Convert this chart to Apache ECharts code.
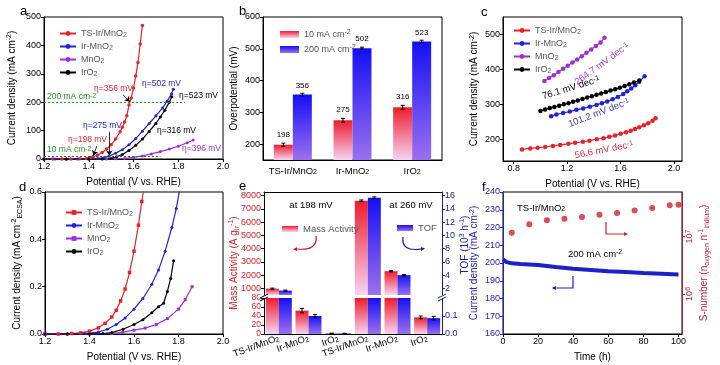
<!DOCTYPE html>
<html>
<head>
<meta charset="utf-8">
<script src="https://cdn.jsdelivr.net/npm/echarts@6.0.0/dist/echarts.min.js"></script>
<style>
html,body{margin:0;padding:0;background:#fff;}
#chart{width:720px;height:365px;}
</style>
</head>
<body>
<div id="chart"></div>
<script>
// ================= DATA =================
// panel a : LSV, [potential V vs RHE, current density mA cm-2]
const A_TS   = [[1.20,0],[1.24,0],[1.28,0],[1.32,0],[1.36,0.5],[1.39,2],[1.41,5],[1.42,8],[1.44,14],[1.46,23],[1.48,35],[1.50,50],[1.52,70],[1.54,96],[1.55,112],[1.56,130],[1.57,152],[1.58,190],[1.59,215],[1.60,250],[1.61,292],[1.62,340],[1.63,405],[1.64,470]];
const A_IR   = [[1.20,0],[1.25,0],[1.30,0],[1.35,0],[1.40,0.5],[1.44,2],[1.47,5],[1.49,10],[1.52,20],[1.55,33],[1.58,50],[1.61,72],[1.64,98],[1.67,125],[1.70,152],[1.73,180],[1.75,203],[1.77,230],[1.778,246]];
const A_MNO2 = [[1.20,0],[1.30,0],[1.40,0],[1.48,0],[1.52,0.5],[1.56,2],[1.60,6],[1.64,11],[1.68,18],[1.72,26],[1.76,35],[1.80,45],[1.84,57],[1.867,67]];
const A_IRO2 = [[1.20,0],[1.30,0],[1.40,0],[1.46,0.3],[1.50,2],[1.525,8],[1.55,16],[1.58,30],[1.61,48],[1.64,70],[1.67,97],[1.70,125],[1.72,148],[1.74,172],[1.76,200],[1.771,219]];

// panel b : overpotential (mV)
const B_CATS = ['TS-Ir/MnO2','Ir-MnO2','IrO2'];
const B_ETA10 = [198,275,316];
const B_ETA10_ERR = [5,6,6];
const B_ETA200 = [356,502,523];
const B_ETA200_ERR = [4,3,4];

// panel c : Tafel
const C_TS_X = [0.862,0.924,0.979,1.036,1.094,1.148,1.210,1.260,1.318,1.367,1.422,1.472,1.516,1.559,1.601,1.641,1.676,1.708,1.740,1.775,1.807,1.840,1.862];
const C_TS_Y = [171,174,176,178,181,184,187,190,193,196,200,203,207,211,216,220,224,229,234,240,246,253,260];
const C_IR_X = [1.08,1.12,1.17,1.22,1.27,1.32,1.37,1.42,1.46,1.50,1.54,1.58,1.62,1.65,1.68,1.71,1.74,1.78];
const C_IR_Y = [266,271,275,279,284,288,293,298,303,308,314,321,329,337,345,354,364,380];
const C_MNO2_X = [1.03,1.065,1.10,1.135,1.17,1.205,1.24,1.275,1.31,1.345,1.38,1.415,1.45,1.48];
const C_MNO2_Y = [366,375,383,392,401,410,419,428,437,447,456,466,476,490];
const C_IRO2_X = [1.00,1.035,1.07,1.105,1.14,1.175,1.21,1.245,1.28,1.315,1.35,1.385,1.42,1.455,1.49,1.525,1.56,1.595,1.63,1.665,1.70,1.74];
const C_IRO2_Y = [281,285,289,292,296,300,303,307,311,315,319,323,327,331,335,339,343,347,352,357,362,368];

// panel d : ECSA normalised LSV
const D_TS   = [[1.20,0],[1.26,0],[1.32,0.002],[1.36,0.005],[1.40,0.012],[1.44,0.026],[1.47,0.045],[1.50,0.072],[1.52,0.10],[1.54,0.14],[1.56,0.19],[1.58,0.26],[1.60,0.35],[1.62,0.46],[1.635,0.56],[1.645,0.62]];
const D_IR   = [[1.20,0],[1.30,0],[1.38,0.002],[1.44,0.008],[1.48,0.02],[1.52,0.04],[1.56,0.068],[1.60,0.105],[1.64,0.15],[1.68,0.21],[1.71,0.27],[1.74,0.35],[1.77,0.45],[1.79,0.53],[1.805,0.61]];
const D_MNO2 = [[1.20,0],[1.30,0],[1.40,0],[1.50,0.002],[1.55,0.008],[1.60,0.016],[1.65,0.025],[1.70,0.04],[1.75,0.065],[1.80,0.105],[1.83,0.145],[1.861,0.2]];
const D_IRO2 = [[1.20,0],[1.30,0],[1.40,0],[1.46,0.002],[1.50,0.006],[1.55,0.02],[1.60,0.04],[1.64,0.06],[1.68,0.09],[1.71,0.115],[1.733,0.13],[1.75,0.18],[1.765,0.235],[1.778,0.31]];

// panel e : mass activity (A g-1 Ir) & TOF (10^3 h-1)
const E_CATS = ['TS-Ir/MnO2','Ir-MnO2','IrO2','TS-Ir/MnO2','Ir-MnO2','IrO2'];
const E_MA = [980,52,1.5,7620,2300,37];
const E_MA_ERR = [40,5,0.5,60,50,3];
const E_TOF = [1.66,0.10,0.003,15.7,4.0,0.088];
const E_TOF_ERR = [0.08,0.008,0.001,0.12,0.1,0.01];

// panel f : stability
const F_T = [0,1,2,5,10,20,30,40,50,60,70,80,90,100];
const F_J = [202,201,200.5,199.8,199.4,198.9,197.7,196.7,196.0,195.3,194.9,194.4,194.0,193.5];
const S_T = [5,15,25,35,45,55,65,75,85,95,100];
const S_N = [1.17e7,1.64e7,1.92e7,2.05e7,2.19e7,2.41e7,2.57e7,2.86e7,3.14e7,3.54e7,3.59e7];

// tick labels
const B_YTICKS = [200,300,400,500,600];
const C_XTICKS = [0.8,1.2,1.6,2.0];
const C_YTICKS = [200,300,400,500];
const E_UL_TICKS = [1000,2000,3000,4000,5000,6000,7000,8000];
const E_UR_TICKS = [2,4,6,8,10,12,14,16];
const E_LL_TICKS = [0,20,40,60,80];
const E_LR_TICKS = [0,0.1];
const F_XTICKS = [0,20,40,60,80,100];

// ================= STYLE =================
const F = 'Liberation Sans, Arial, Helvetica, sans-serif';
const RED = '#e3242b', BLUE = '#2323d6', PURPLE = '#9b30d9', BLACK = '#000000';
const RICH = {
  sup: {fontSize: 7, verticalAlign: 'top', lineHeight: 8, fontFamily: F},
  sub: {fontSize: 7, verticalAlign: 'bottom', lineHeight: 8, fontFamily: F}
};
const gradRed = {type:'linear',x:0,y:0,x2:0,y2:1,colorStops:[{offset:0,color:'#ee1c2c'},{offset:1,color:'#f6d4f4'}]};
const gradBlue = {type:'linear',x:0,y:0,x2:0,y2:1,colorStops:[{offset:0,color:'#1410f5'},{offset:1,color:'#9c70ee'}]};
const LBL = {TS:'TS-Ir/MnO{sub|2}', IR:'Ir-MnO{sub|2}', MN:'MnO{sub|2}', IO:'IrO{sub|2}'};
function catLabel(v){ return v.replace(/O2$/, 'O{sub|2}'); }

function merge(a, b) {
  const r = Object.assign({}, a);
  for (const k in b) {
    if (b[k] && typeof b[k] === 'object' && !Array.isArray(b[k]) && a[k] && typeof a[k] === 'object' && !Array.isArray(a[k])) r[k] = merge(a[k], b[k]);
    else r[k] = b[k];
  }
  return r;
}
const AX = {
  type: 'value',
  axisLine: {show: true, onZero: false, lineStyle: {color: '#000', width: 1}},
  axisTick: {show: true, inside: false, length: 3, lineStyle: {color: '#000'}},
  axisLabel: {fontSize: 9, color: '#000', margin: 3, fontFamily: F, rich: RICH},
  splitLine: {show: false},
  nameLocation: 'middle',
  nameTextStyle: {fontSize: 10, color: '#000', fontFamily: F, rich: RICH, lineHeight: 13}
};
function ax(o){ return merge(AX, o); }
const fix1 = v => (+v).toFixed(1);
const plain = v => String(v);

function lineS(name, data, color, xi, yi, symbol, size) {
  return {type:'line', name, data, xAxisIndex:xi, yAxisIndex:yi, symbol: symbol || 'circle', symbolSize: size || 3,
    showSymbol: true, lineStyle: {color, width: 1.2}, itemStyle: {color}, animation: false, z: 3};
}
function pairs(xs, ys){ return xs.map((x, i) => [x, ys[i]]); }

function errS(xi, yi, vals, errs, off, lo, hi) {
  const data = [];
  vals.forEach((v, i) => { if (v >= lo && v <= hi) data.push([i, v, errs[i]]); });
  return {type:'custom', xAxisIndex: xi, yAxisIndex: yi, data, z: 5, silent: true, animation: false,
    encode: {x: 0, y: 1},
    renderItem: function(params, api) {
      const c = api.coord([api.value(0), api.value(1)]);
      const t = api.coord([api.value(0), api.value(1) + api.value(2)]);
      const b = api.coord([api.value(0), api.value(1) - api.value(2)]);
      const x = c[0] + off, hw = 2;
      const st = {stroke: '#000', lineWidth: 1};
      return {type: 'group', children: [
        {type:'line', shape:{x1:x, y1:t[1], x2:x, y2:b[1]}, style: st},
        {type:'line', shape:{x1:x-hw, y1:t[1], x2:x+hw, y2:t[1]}, style: st},
        {type:'line', shape:{x1:x-hw, y1:b[1], x2:x+hw, y2:b[1]}, style: st}
      ]};
    }};
}

// graphic helpers
function txt(x, y, s, o) {
  return {type:'text', x, y, z: 20, style: Object.assign({text: s, fontSize: 9, fontFamily: F, fill: '#000', align: 'left', verticalAlign: 'middle', rich: RICH}, o || {})};
}
function rtxt(x, y, deg, s, o) {
  const t = txt(x, y, s, Object.assign({align: 'center'}, o || {}));
  t.rotation = deg * Math.PI / 180;
  return t;
}
function head(x, y, ang, color, s) {
  s = s || 4;
  const ca = Math.cos(ang), sa = Math.sin(ang);
  const p1 = [x - s*ca + s*0.5*sa, y - s*sa - s*0.5*ca];
  const p2 = [x - s*ca - s*0.5*sa, y - s*sa + s*0.5*ca];
  return {type:'polygon', z: 20, shape: {points: [[x, y], p1, p2]}, style: {fill: color}};
}
function seg(x1, y1, x2, y2, color, w) {
  return {type:'line', z: 20, shape: {x1, y1, x2, y2}, style: {stroke: color, lineWidth: w || 1}};
}

const B_YMIN = 150;
const E_LO_MAX = 80, E_LO_TOF_MAX = 0.2;

const chart = echarts.init(document.getElementById('chart'), null, {renderer: 'canvas'});
const gridBox = {show: true, borderColor: '#000', borderWidth: 1, backgroundColor: 'transparent'};

const option = {
  animation: false,
  backgroundColor: '#fff',
  textStyle: {fontFamily: F},
  grid: [
    Object.assign({left: 44, top: 17, width: 179, height: 142}, gridBox),
    Object.assign({left: 263, top: 17, width: 179, height: 143}, gridBox),
    Object.assign({left: 503, top: 17, width: 179, height: 144}, gridBox),
    Object.assign({left: 45, top: 192, width: 178, height: 142}, gridBox),
    {left: 264, top: 192, width: 178, height: 103, show: false},
    {left: 264, top: 298, width: 178, height: 36, show: false},
    Object.assign({left: 503, top: 192, width: 179, height: 143}, gridBox)
  ],
  xAxis: [
    ax({gridIndex: 0, min: 1.2, max: 2.0, interval: 0.2, axisLabel: {formatter: fix1}, name: 'Potential (V vs. RHE)', nameGap: 17}),
    ax({gridIndex: 1, type: 'category', data: B_CATS, axisTick: {show: false}, axisLabel: {interval: 0, margin: 6, fontSize: 9.5, formatter: catLabel}}),
    ax({gridIndex: 2, min: 0.72, max: 2.06, axisLabel: {customValues: C_XTICKS, formatter: fix1}, axisTick: {customValues: C_XTICKS}, name: 'Potential (V vs. RHE)', nameGap: 17}),
    ax({gridIndex: 3, min: 1.2, max: 2.0, interval: 0.2, axisLabel: {formatter: fix1}, name: 'Potential (V vs. RHE)', nameGap: 17}),
    ax({gridIndex: 4, type: 'category', data: E_CATS, axisLine: {show: false}, axisTick: {show: false}, axisLabel: {show: false},
        splitLine: {show: true, interval: (i) => i === 3, lineStyle: {color: '#333', type: [5, 3], width: 1}}}),
    ax({gridIndex: 4, type: 'category', data: E_CATS, position: 'top', axisTick: {show: false}, axisLabel: {show: false}}),
    ax({gridIndex: 5, type: 'category', data: E_CATS, axisTick: {show: false},
        axisLabel: {interval: 0, rotate: 20, fontSize: 9.5, margin: 4, formatter: catLabel},
        splitLine: {show: true, interval: (i) => i === 3, lineStyle: {color: '#333', type: [5, 3], width: 1}}}),
    ax({gridIndex: 6, min: 0, max: 102, axisLabel: {customValues: F_XTICKS}, axisTick: {customValues: F_XTICKS}, name: 'Time (h)', nameGap: 17})
  ],
  yAxis: [
    ax({gridIndex: 0, min: 0, max: 500, interval: 100, name: 'Current density (mA cm{sup|-2})', nameGap: 25}),
    ax({gridIndex: 1, min: B_YMIN, max: 600, axisLabel: {customValues: B_YTICKS}, axisTick: {customValues: B_YTICKS}, name: 'Overpotential (mV)', nameGap: 15}),
    ax({gridIndex: 2, min: 138, max: 549, axisLabel: {customValues: C_YTICKS}, axisTick: {customValues: C_YTICKS}, name: 'Current density (mA cm{sup|-2})', nameGap: 14}),
    ax({gridIndex: 3, min: 0, max: 0.6, interval: 0.2, axisLabel: {formatter: fix1}, name: 'Current density (mA cm{sup|-2}{sub|ECSA})', nameGap: 21}),
    ax({gridIndex: 4, min: 500, max: 8280, axisLabel: {customValues: E_UL_TICKS, color: '#d8232a', formatter: plain}, axisTick: {customValues: E_UL_TICKS}}),
    ax({gridIndex: 4, position: 'right', min: 1.0, max: 16.56, axisLine: {lineStyle: {color: '#1b1b9e'}}, axisLabel: {customValues: E_UR_TICKS, color: '#1b1b9e', formatter: plain}, axisTick: {customValues: E_UR_TICKS, lineStyle: {color: '#1b1b9e'}}}),
    ax({gridIndex: 5, min: 0, max: E_LO_MAX, axisLabel: {customValues: E_LL_TICKS, color: '#d8232a', fontSize: 8.5, formatter: plain, showMinLabel: true, showMaxLabel: true}, axisTick: {customValues: E_LL_TICKS}}),
    ax({gridIndex: 5, position: 'right', min: 0, max: E_LO_TOF_MAX, axisLine: {lineStyle: {color: '#1b1b9e'}}, axisLabel: {customValues: E_LR_TICKS, color: '#1b1b9e', formatter: fix1, showMinLabel: true}, axisTick: {customValues: E_LR_TICKS, lineStyle: {color: '#1b1b9e'}}}),
    ax({gridIndex: 6, min: 160, max: 240, interval: 10, axisLine: {lineStyle: {color: '#2323b8'}}, axisTick: {lineStyle: {color: '#2323b8'}}, axisLabel: {color: '#2323b8'},
        name: 'Current density (mA cm{sup|-2})', nameGap: 18, nameTextStyle: {color: '#2323b8'}}),
    ax({gridIndex: 6, type: 'log', logBase: 10, position: 'right', min: 2e5, max: 6e7,
        axisLine: {lineStyle: {color: '#b02040'}}, axisTick: {lineStyle: {color: '#b02040'}},
        axisLabel: {color: '#c0203a', rotate: 90, showMinLabel: false, showMaxLabel: false, formatter: v => '10{sup|' + Math.round(Math.log10(v)) + '}'},
        minorTick: {show: false},
        name: 'S-number (n{sub|oxygen} n{sup|-1}{sub|iridium})', nameGap: 16, nameRotate: 90, nameTextStyle: {color: '#c0203a'}})
  ],
  legend: [
    {left: 54, top: 23, orient: 'vertical', selectedMode: false, itemWidth: 16, itemHeight: 6, itemGap: 2,
     data: ['aTS','aIR','aMN','aIO'], formatter: n => LBL[n.slice(1)], textStyle: {fontSize: 9, fontFamily: F, rich: RICH, lineHeight: 11}},
    {left: 275, top: 24, orient: 'vertical', selectedMode: false, icon: 'rect', itemWidth: 19, itemHeight: 7, itemGap: 4,
     data: ['b10','b200'], formatter: n => n === 'b10' ? '10 mA cm{sup|-2}' : '200 mA cm{sup|-2}', textStyle: {fontSize: 9, fontFamily: F, rich: RICH, lineHeight: 11}},
    {left: 508, top: 20, orient: 'vertical', selectedMode: false, itemWidth: 16, itemHeight: 6, itemGap: 2,
     data: ['cTS','cIR','cMN','cIO'], formatter: n => LBL[n.slice(1)], textStyle: {fontSize: 9, fontFamily: F, rich: RICH, lineHeight: 11}},
    {left: 60, top: 202, orient: 'vertical', selectedMode: false, itemWidth: 16, itemHeight: 6, itemGap: 2,
     data: ['dTS','dIR','dMN','dIO'], formatter: n => LBL[n.slice(1)], textStyle: {fontSize: 9, fontFamily: F, rich: RICH, lineHeight: 11}},
    {left: 277, top: 219, selectedMode: false, icon: 'rect', itemWidth: 16, itemHeight: 6, data: ['Mass Activity'],
     textStyle: {fontSize: 9.5, fontFamily: F}},
    {left: 392, top: 218, selectedMode: false, icon: 'rect', itemWidth: 16, itemHeight: 6, data: ['TOF'],
     textStyle: {fontSize: 9.5, fontFamily: F}}
  ],
  series: [
    // ---- a ----
    Object.assign(lineS('aTS', A_TS, RED, 0, 0, 'circle', 3.5), {
      markLine: {silent: true, symbol: ['none','none'], animation: false, label: {show: false},
        data: [
          [{coord: [1.2, 200], lineStyle: {color: '#2e9a2e', type: [2, 2], width: 1.2}}, {coord: [1.83, 200]}],
          [{coord: [1.2, 10], lineStyle: {color: '#2e6a2e', type: [2, 2], width: 1.2}}, {coord: [1.72, 10]}]
        ]}}),
    Object.assign(lineS('aIR', A_IR, BLUE, 0, 0, 'circle', 3), {
      markLine: {silent: true, symbol: ['none','arrow'], symbolSize: 5, animation: false, label: {show: false},
        lineStyle: {color: '#000', type: 'solid', width: 0.8},
        data: [
          [{coord: [1.553, 226]}, {coord: [1.584, 202]}],
          [{coord: [1.492, 96]}, {coord: [1.492, 12]}],
          [{coord: [1.436, 46]}, {coord: [1.421, 12]}]
        ]}}),
    lineS('aMN', A_MNO2, PURPLE, 0, 0, 'circle', 3),
    lineS('aIO', A_IRO2, BLACK, 0, 0, 'circle', 3),
    // ---- b ----
    {type: 'bar', name: 'b10base', stack: 'r', xAxisIndex: 1, yAxisIndex: 1, barWidth: 19, barGap: '0%', data: B_ETA10.map(() => B_YMIN), itemStyle: {color: 'rgba(0,0,0,0)'}, silent: true},
    {type: 'bar', name: 'b10', stack: 'r', xAxisIndex: 1, yAxisIndex: 1, barWidth: 19, barGap: '0%', data: B_ETA10.map(v => v - B_YMIN), itemStyle: {color: gradRed},
     label: {show: true, position: 'top', distance: 6, fontSize: 8, color: '#000', fontFamily: F, formatter: p => B_ETA10[p.dataIndex]}},
    {type: 'bar', name: 'b200base', stack: 'b', xAxisIndex: 1, yAxisIndex: 1, barWidth: 19, barGap: '0%', data: B_ETA200.map(() => B_YMIN), itemStyle: {color: 'rgba(0,0,0,0)'}, silent: true},
    {type: 'bar', name: 'b200', stack: 'b', xAxisIndex: 1, yAxisIndex: 1, barWidth: 19, barGap: '0%', data: B_ETA200.map(v => v - B_YMIN), itemStyle: {color: gradBlue},
     label: {show: true, position: 'top', distance: 5, fontSize: 8, color: '#000', fontFamily: F, formatter: p => B_ETA200[p.dataIndex]}},
    errS(1, 1, B_ETA10, B_ETA10_ERR, -9.5, B_YMIN, 600),
    errS(1, 1, B_ETA200, B_ETA200_ERR, 9.5, B_YMIN, 600),
    // ---- c ----
    lineS('cTS', pairs(C_TS_X, C_TS_Y), RED, 2, 2, 'circle', 4.5),
    lineS('cIR', pairs(C_IR_X, C_IR_Y), BLUE, 2, 2, 'circle', 4.5),
    lineS('cMN', pairs(C_MNO2_X, C_MNO2_Y), '#9933cc', 2, 2, 'circle', 4.5),
    lineS('cIO', pairs(C_IRO2_X, C_IRO2_Y), BLACK, 2, 2, 'circle', 4.5),
    // ---- d ----
    lineS('dTS', D_TS, RED, 3, 3, 'rect', 3.5),
    lineS('dIR', D_IR, BLUE, 3, 3, 'circle', 3),
    lineS('dMN', D_MNO2, PURPLE, 3, 3, 'rect', 3),
    lineS('dIO', D_IRO2, BLACK, 3, 3, 'circle', 3),
    // ---- e (upper / lower broken axis) ----
    {type: 'bar', name: 'Mass Activity', xAxisIndex: 4, yAxisIndex: 4, barWidth: 13, barGap: '0%', data: E_MA, itemStyle: {color: gradRed}},
    {type: 'bar', name: 'TOF', xAxisIndex: 4, yAxisIndex: 5, barWidth: 13, barGap: '0%', data: E_TOF, itemStyle: {color: gradBlue}},
    {type: 'bar', name: 'eMAlo', xAxisIndex: 6, yAxisIndex: 6, barWidth: 13, barGap: '0%', data: E_MA.map(v => Math.min(v, E_LO_MAX)), itemStyle: {color: gradRed}},
    {type: 'bar', name: 'eTOFlo', xAxisIndex: 6, yAxisIndex: 7, barWidth: 13, barGap: '0%', data: E_TOF.map(v => Math.min(v, E_LO_TOF_MAX)), itemStyle: {color: gradBlue}},
    errS(4, 4, E_MA, E_MA_ERR, -6.5, 500, 8280),
    errS(4, 5, E_TOF, E_TOF_ERR, 6.5, 1.0, 16.56),
    errS(6, 6, E_MA, E_MA_ERR, -6.5, 0, E_LO_MAX),
    errS(6, 7, E_TOF, E_TOF_ERR, 6.5, 0, E_LO_TOF_MAX),
    // ---- f ----
    {type: 'line', name: 'fJ', xAxisIndex: 7, yAxisIndex: 8, data: pairs(F_T, F_J), symbol: 'none', lineStyle: {color: '#1f1fc8', width: 4}, z: 3},
    {type: 'scatter', name: 'fS', xAxisIndex: 7, yAxisIndex: 9, data: pairs(S_T, S_N), symbol: 'circle', symbolSize: 6, itemStyle: {color: '#d0202e'}, z: 4}
  ],
  graphic: [
    // panel letters
    txt(20, 11, 'a', {fontSize: 13}), txt(239, 11, 'b', {fontSize: 13}), txt(481, 12, 'c', {fontSize: 13}),
    txt(19, 187, 'd', {fontSize: 13}), txt(239, 186, 'e', {fontSize: 13}), txt(482, 187, 'f', {fontSize: 13}),
    // panel a annotations
    txt(47, 97, '200 mA cm{sup|-2}', {fill: '#2e8b2e', fontSize: 8.5}),
    txt(47, 150, '10 mA cm{sup|-2}', {fill: '#2e8b2e', fontSize: 8.5}),
    txt(94, 89, 'η=356 mV', {fill: RED, fontSize: 8.5}),
    txt(142, 84, 'η=502 mV', {fill: BLUE, fontSize: 8.5}),
    txt(179, 96, 'η=523 mV', {fill: BLACK, fontSize: 8.5}),
    txt(83, 126, 'η=275 mV', {fill: BLUE, fontSize: 8.5}),
    txt(68, 140, 'η=198 mV', {fill: RED, fontSize: 8.5}),
    txt(157, 131, 'η=316 mV', {fill: BLACK, fontSize: 8.5}),
    txt(182, 149, 'η=396 mV', {fill: PURPLE, fontSize: 8.5}),
    // panel c Tafel slopes
    rtxt(602, 64, 36, '264.7 mV dec{sup|-1}', {fill: '#a040d0', fontSize: 9.5}),
    rtxt(571, 88, 17, '76.1 mV dec{sup|-1}', {fill: '#000', fontSize: 9.5}),
    rtxt(599, 113, 21, '101.2 mV dec{sup|-1}', {fill: '#3a3ad0', fontSize: 9.5}),
    rtxt(604, 150, 11, '56.6 mV dec{sup|-1}', {fill: '#d03040', fontSize: 9.5}),
    // panel e texts
    txt(311, 205, 'at 198 mV', {align: 'center', fontSize: 9.5}),
    txt(411, 205, 'at 260 mV', {align: 'center', fontSize: 9.5}),
    rtxt(234, 263, 90, 'Mass Activity (A g{sub|Ir}{sup|-1})', {fill: '#d8232a', fontSize: 10, lineHeight: 13}),
    rtxt(465, 245, 90, 'TOF (10{sup|3} h{sup|-1})', {fill: '#1b1b9e', fontSize: 10, lineHeight: 13}),
    {type: 'bezierCurve', z: 20, shape: {x1: 316, y1: 236, cpx1: 318, cpy1: 251, x2: 297, y2: 249}, style: {stroke: '#b02030', lineWidth: 1.2, fill: null}},
    head(293, 249.5, Math.PI - 0.1, '#b02030', 4),
    {type: 'bezierCurve', z: 20, shape: {x1: 403, y1: 237, cpx1: 401, cpy1: 252, x2: 421, y2: 249}, style: {stroke: '#1b1b9e', lineWidth: 1.2, fill: null}},
    head(425, 248.5, -0.1, '#1b1b9e', 4),
    // broken-axis marks
    {type: 'rect', z: 19, shape: {x: 259, y: 295, width: 10, height: 3}, style: {fill: '#fff'}},
    seg(260, 298, 268, 294, '#000', 1), seg(260, 301, 268, 297, '#000', 1),
    {type: 'rect', z: 19, shape: {x: 437, y: 295, width: 10, height: 3}, style: {fill: '#fff'}},
    seg(438, 298, 446, 294, '#1b1b9e', 1), seg(438, 301, 446, 297, '#1b1b9e', 1),
    // panel f
    txt(517, 208, 'TS-Ir/MnO{sub|2}', {fontSize: 9.5}),
    txt(568, 254, '200 mA cm{sup|-2}', {fontSize: 9.5}),
    {type: 'polyline', z: 20, shape: {points: [[606, 222], [606, 234], [624, 234]]}, style: {stroke: '#d0202e', lineWidth: 1.2, fill: null}},
    head(628, 234, 0, '#d0202e', 4),
    {type: 'polyline', z: 20, shape: {points: [[573, 276], [573, 288], [556, 288]]}, style: {stroke: '#1f1fc8', lineWidth: 1.2, fill: null}},
    head(552, 288, Math.PI, '#1f1fc8', 4)
  ]
};
chart.setOption(option);
</script>
</body>
</html>
